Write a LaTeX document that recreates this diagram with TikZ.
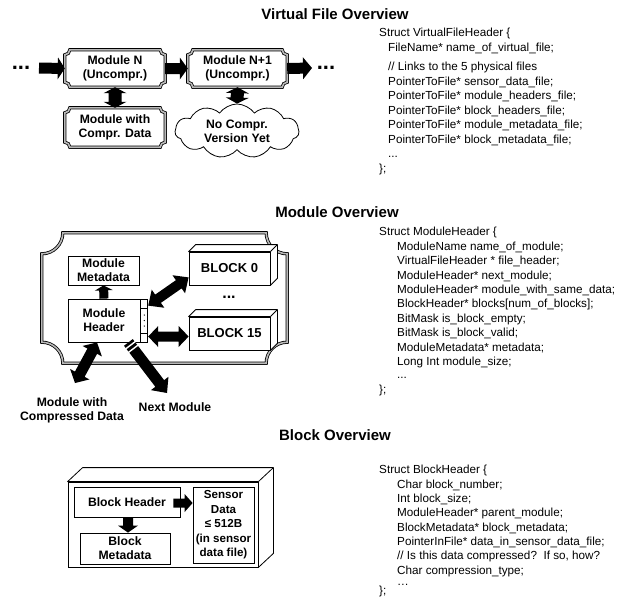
\documentclass[tikz,border=0pt]{standalone}
\usepackage{fontspec}
\setmainfont{Liberation Sans}
\usetikzlibrary{calc,shapes.symbols}

% single block arrow: tail, tip, half shaft, half head, head length
\newcommand\sarrowx[5]{%
  \coordinate (ah) at ($(#2)!#5pt!(#1)$);
  \fill ($(#1)!#3pt!90:(#2)$) -- ($(ah)!#3pt!90:(#2)$) -- ($(ah)!#4pt!90:(#2)$) -- (#2)
     -- ($(ah)!#4pt!-90:(#2)$) -- ($(ah)!#3pt!-90:(#2)$) -- ($(#1)!#3pt!-90:(#2)$) -- cycle;}
% double block arrow
\newcommand\darrowx[5]{%
  \coordinate (ah1) at ($(#1)!#5pt!(#2)$);
  \coordinate (ah2) at ($(#2)!#5pt!(#1)$);
  \fill (#1) -- ($(ah1)!#4pt!90:(#2)$) -- ($(ah1)!#3pt!90:(#2)$) -- ($(ah2)!#3pt!90:(#2)$)
     -- ($(ah2)!#4pt!90:(#2)$) -- (#2) -- ($(ah2)!#4pt!-90:(#2)$) -- ($(ah2)!#3pt!-90:(#2)$)
     -- ($(ah1)!#3pt!-90:(#2)$) -- ($(ah1)!#4pt!-90:(#2)$) -- cycle;}
% plaque frame with concave corners around a node
\newcommand\plaquearound[2]{%
  \draw[plaq] let \p1=(#1.north west), \p2=(#1.south east) in
   ({\x1+#2pt},\y1) -- ({\x2-#2pt},\y1) arc[start angle=180,end angle=270,radius=#2pt]
   -- (\x2,{\y2+#2pt}) arc[start angle=90,end angle=180,radius=#2pt]
   -- ({\x1+#2pt},\y2) arc[start angle=0,end angle=90,radius=#2pt]
   -- (\x1,{\y1-#2pt}) arc[start angle=270,end angle=360,radius=#2pt] -- cycle;}
% 3D faces on a box node
\newcommand\threed[3]{%
  \draw[face] (#1.north west) -- ++(#2pt,#3pt) -- ($(#1.north east)+(#2pt,#3pt)$)
     -- ($(#1.south east)+(#2pt,#3pt)$) -- (#1.south east) -- (#1.north east) -- cycle;
  \draw[face] (#1.north east) -- ++(#2pt,#3pt);}

\begin{document}
\begin{tikzpicture}[x=1pt,y=-1pt,
  lbl/.style={font=\fontsize{12.2}{14}\selectfont\bfseries, align=center, inner sep=0pt},
  box/.style={draw, line width=0.8pt, fill=white, lbl},
  code/.style={anchor=base west, inner sep=0pt, font=\fontsize{11.7}{14.4}\selectfont},
  ttl/.style={font=\fontsize{15}{18}\selectfont\bfseries, inner sep=0pt},
  plaq/.style={draw=black, line width=0.8pt, double=gray!55, double distance=1.6pt},
  bigdots/.style={font=\fontsize{22}{22}\selectfont\bfseries, inner sep=0pt},
  face/.style={draw, line width=0.8pt, line join=round, fill=white}]

\useasboundingbox (0,0) rectangle (637,598);

% ---------------- Virtual File Overview ----------------
\node[ttl] (t1) at (335,14) {Virtual File Overview};
\node[lbl, minimum width=100, minimum height=37] (mN) at (115,68.5) {Module N\\(Uncompr.)};
\node[lbl, minimum width=99, minimum height=37] (mN1) at (237.5,68.5) {Module N+1\\(Uncompr.)};
\node[lbl, minimum width=100, minimum height=39] (mC) at (115,127.5) {Module with\\Compr. Data};
\plaquearound{mN}{5}
\plaquearound{mN1}{5}
\plaquearound{mC}{5}
\node[cloud, draw, line width=0.8pt, cloud puffs=11, cloud puff arc=110, cloud ignores aspect,
      minimum width=124, minimum height=54, inner sep=0pt, fill=white] (nc) at (237,131) {};
\node[lbl] (nct) at (nc.center) {No Compr.\\Version Yet};
\node[bigdots] (ldots) at (21,68) {...};
\node[bigdots] (rdots) at (326,68) {...};
\coordinate (la) at (39,68);
\coordinate (ra) at (312,68);
\sarrowx{la}{mN.west}{5.5}{11}{7}
\sarrowx{mN.east}{mN1.west}{5.5}{11}{8}
\sarrowx{mN1.east}{ra}{5.5}{11}{9}
\darrowx{mN.south}{mC.north}{6.5}{11.5}{6}
\darrowx{mN1.south}{nc.north}{6.5}{11.5}{6}

\node[code] (v0) at (379,36) {Struct VirtualFileHeader \{};
\node[code] (v1) at (388,51) {FileName* name\_of\_virtual\_file;};
\node[code] (v2) at (388,70.5) {// Links to the 5 physical files};
\node[code] (v3) at (388,85) {PointerToFile* sensor\_data\_file;};
\node[code] (v4) at (388,99.5) {PointerToFile* module\_headers\_file;};
\node[code] (v5) at (388,114) {PointerToFile* block\_headers\_file;};
\node[code] (v6) at (388,128.5) {PointerToFile* module\_metadata\_file;};
\node[code] (v7) at (388,143) {PointerToFile* block\_metadata\_file;};
\node[code] (v8) at (388,157) {...};
\node[code] (v9) at (379,172) {\};};

% ---------------- Module Overview ----------------
\node[ttl] (t2) at (337,212) {Module Overview};
\node[minimum width=245, minimum height=130, inner sep=0pt] (mf) at (164.5,298) {};
\plaquearound{mf}{21}
\node[box, minimum width=71, minimum height=29] (mm) at (103.5,270.5) {Module\\Metadata};
\node[box, minimum width=72, minimum height=43] (mh) at (104,320.5) {Module\\Header};
\node[draw, line width=0.8pt, fill=white, minimum width=7, minimum height=43, inner sep=0pt, anchor=west] (sb) at (mh.east) {};
\draw[line width=0.6pt] ($(sb.north west)+(0,10)$) -- ($(sb.north east)+(0,10)$);
\draw[line width=0.6pt] ($(sb.south west)+(0,-9)$) -- ($(sb.south east)+(0,-9)$);
\foreach \d in {-5.5,0,5.5} \fill ($(sb.center)+(0,\d)$) circle[radius=0.7pt];

\node[box, font=\fontsize{13}{15}\selectfont\bfseries, minimum width=81, minimum height=33] (b0) at (229.5,268.5) {BLOCK 0};
\threed{b0}{7}{7}
\node[box, font=\fontsize{13}{15}\selectfont\bfseries, minimum width=81, minimum height=33] (b15) at (229.5,333.5) {BLOCK 15};
\threed{b15}{7}{7}
\node[font=\fontsize{16}{16}\selectfont\bfseries, inner sep=0pt] (bdots) at (229,297) {...};

\sarrowx{mh.north}{mm.south}{4.5}{9}{5}
\coordinate (d0a) at ($(sb.north east)+(0,7)$);
\coordinate (d0b) at ($(b0.south west)+(0,-8)$);
\darrowx{d0a}{d0b}{5}{11}{12}
\coordinate (d15a) at ($(sb.east)+(0,16)$);
\coordinate (d15b) at (b15.west |- d15a);
\darrowx{d15a}{d15b}{5}{10.5}{10}
\coordinate (cmpa) at ($(mh.south)+(-7,0)$);
\coordinate (cmpb) at (75,383);
\darrowx{cmpa}{cmpb}{5.5}{11}{10}
\coordinate (nma) at ($(mh.south east)+(-12,0)$);
\coordinate (nmb) at (167,393);
\sarrowx{nma}{nmb}{5.5}{11}{12}
\coordinate (st1) at ($(nma)!3.5pt!(nmb)$);
\coordinate (st2) at ($(nma)!8pt!(nmb)$);
\draw[white, line width=1.4pt] ($(st1)!7pt!90:(nmb)$) -- ($(st1)!7pt!-90:(nmb)$);
\draw[white, line width=1.4pt] ($(st2)!7pt!90:(nmb)$) -- ($(st2)!7pt!-90:(nmb)$);

\node[lbl] (lmc) at (72,410) {Module with\\Compressed Data};
\node[lbl] (lnm) at (175,407) {Next Module};

\node[code] (m0) at (379,235.5) {Struct ModuleHeader \{};
\node[code] (m1) at (397,250) {ModuleName name\_of\_module;};
\node[code] (m2) at (397,264.5) {VirtualFileHeader * file\_header;};
\node[code] (m3) at (397,279) {ModuleHeader* next\_module;};
\node[code] (m4) at (397,293) {ModuleHeader* module\_with\_same\_data;};
\node[code] (m5) at (397,307.5) {BlockHeader* blocks[num\_of\_blocks];};
\node[code] (m6) at (397,322) {BitMask is\_block\_empty;};
\node[code] (m7) at (397,336.5) {BitMask is\_block\_valid;};
\node[code] (m8) at (397,351) {ModuleMetadata* metadata;};
\node[code] (m9) at (397,365) {Long Int module\_size;};
\node[code] (m10) at (397,378.5) {...};
\node[code] (m11) at (379,393.5) {\};};

% ---------------- Block Overview ----------------
\node[ttl] (t3) at (335,435) {Block Overview};
\node[draw, line width=0.8pt, fill=white, minimum width=190, minimum height=85, inner sep=0pt] (blk) at (163,524.5) {};
\threed{blk}{15}{14}
\node[box, minimum width=106, minimum height=30] (bh) at (127,502) {Block Header};
\node[box, minimum width=90, minimum height=31] (bm) at (125,548.5) {Block\\Metadata};
\node[box, font=\fontsize{11.6}{14.5}\selectfont\bfseries, minimum width=61, minimum height=76] (sd) at (223.5,525) {Sensor\\Data\\≤ 512B\\(in sensor\\data file)};
\coordinate (bsa) at ($(bh.east)+(-7,1)$);
\coordinate (bsb) at (sd.west |- bsa);
\sarrowx{bsa}{bsb}{4.5}{9}{8}
\coordinate (bma) at ($(bh.south)+(1,0)$);
\coordinate (bmb) at (bma |- bm.north);
\sarrowx{bma}{bmb}{5}{10}{7}

\node[code] (k0) at (379,473.5) {Struct BlockHeader \{};
\node[code] (k1) at (397,488) {Char block\_number;};
\node[code] (k2) at (397,502) {Int block\_size;};
\node[code] (k3) at (397,516.5) {ModuleHeader* parent\_module;};
\node[code] (k4) at (397,531) {BlockMetadata* block\_metadata;};
\node[code] (k5) at (397,545) {PointerInFile* data\_in\_sensor\_data\_file;};
\node[code] (k6) at (397,559.5) {// Is this data compressed?\ \ If so, how?};
\node[code] (k7) at (397,574) {Char compression\_type;};
\node[code] (k8) at (397,585) {…};
\node[code] (k9) at (379,594.5) {\};};
\end{tikzpicture}
\end{document}
